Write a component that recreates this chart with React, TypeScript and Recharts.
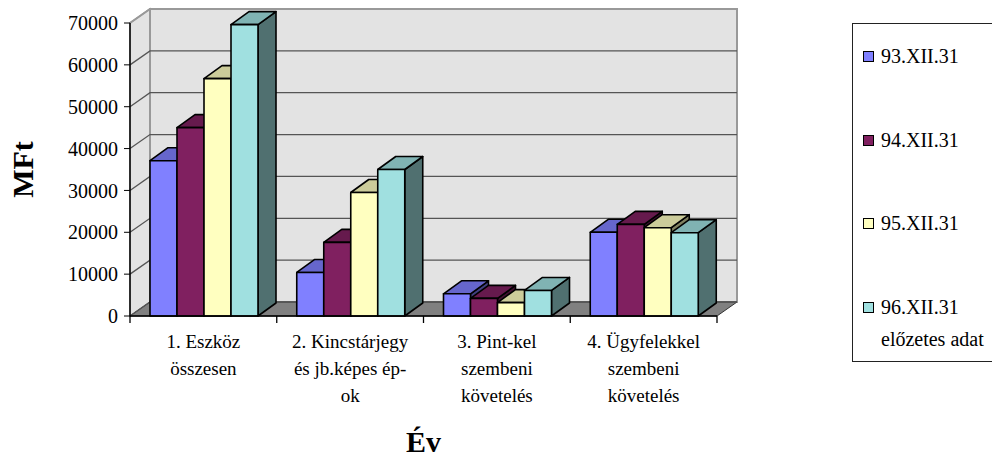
import React from "react";
import { BarChart, Bar, XAxis, YAxis, CartesianGrid, Legend } from "recharts";

// categories (line breaks as in the original axis labels)
const categories = [
  "1. Eszköz\nösszesen",
  "2. Kincstárjegy\nés jb.képes ép-\nok",
  "3. Pint-kel\nszembeni\nkövetelés",
  "4. Ügyfelekkel\nszembeni\nkövetelés",
];

const seriesNames = ["93.XII.31", "94.XII.31", "95.XII.31", "96.XII.31\nelőzetes adat"];
const seriesColors = ["#8080FF", "#802060", "#FFFFC0", "#A0E0E0"];

const v93 = [37100, 10400, 5300, 20000];
const v94 = [45000, 17600, 4200, 21900];
const v95 = [56700, 29500, 3200, 21100];
const v96 = [69600, 35000, 6100, 19900];

const yTicks = [0, 10000, 20000, 30000, 40000, 50000, 60000, 70000];

const data = categories.map((name, i) => ({
  name,
  s0: v93[i],
  s1: v94[i],
  s2: v95[i],
  s3: v96[i],
}));

const FONT = "Liberation Serif, DejaVu Serif, serif";

// depth of the 3D walls and of the bars
const DX = 20;
const DY = -14;
const BDX = 18;
const BDY = -13;

function shade(hex: string, k: number) {
  const n = parseInt(hex.slice(1), 16);
  const r = Math.round(((n >> 16) & 255) * k);
  const g = Math.round(((n >> 8) & 255) * k);
  const b = Math.round((n & 255) * k);
  return `rgb(${r},${g},${b})`;
}

const Bar3D = (props: any) => {
  const { x, y, width: w, height: h, fill } = props;
  if (!h || h <= 0) return <g />;
  return (
    <g stroke="#000" strokeWidth={1.6} strokeLinejoin="round">
      <polygon
        points={`${x + w},${y} ${x + w + BDX},${y + BDY} ${x + w + BDX},${y + h + BDY} ${x + w},${y + h}`}
        fill={shade(fill, 0.5)}
      />
      <polygon
        points={`${x},${y} ${x + BDX},${y + BDY} ${x + w + BDX},${y + BDY} ${x + w},${y}`}
        fill={shade(fill, 0.8)}
      />
      <rect x={x} y={y} width={w} height={h} fill={fill} />
    </g>
  );
};

// grid lines run across the side wall and then along the back wall;
// the first one also paints the walls and the floor underneath
const gridLine = (p: any) => {
  const { x1, y1, x2, index } = p;
  const top = p.y;
  const h = p.height;
  const w = x2 - x1;
  const isTop = Math.abs(y1 - top) < 0.5;
  return (
    <g key={p.key}>
      {index === 0 && (
        <g>
          <polygon
            points={`${x1},${top + h} ${x1},${top} ${x1 + DX},${top + DY} ${x1 + DX},${top + h + DY}`}
            fill="#E3E3E3"
            stroke="#999"
            strokeWidth={1.5}
          />
          <rect x={x1 + DX} y={top + DY} width={w} height={h} fill="#E3E3E3" stroke="#999" strokeWidth={2} />
          <polygon
            points={`${x1},${top + h} ${x2},${top + h} ${x2 + DX},${top + h + DY} ${x1 + DX},${top + h + DY}`}
            fill="#808080"
            stroke="#333"
            strokeWidth={1}
          />
        </g>
      )}
      <polyline
        points={`${x1},${y1} ${x1 + DX},${y1 + DY} ${x2 + DX},${y1 + DY}`}
        fill="none"
        stroke={isTop ? "#999" : "#555"}
        strokeWidth={isTop ? 2 : 1.3}
      />
    </g>
  );
};

const CategoryTick = (props: any) => {
  const { x, y, payload, index } = props;
  const half = typeof payload?.offset === "number" && payload.offset > 0 ? payload.offset : 73.4;
  const lines = String(payload.value).split("\n");
  return (
    <g>
      <line x1={x - half} y1={y} x2={x - half} y2={y + 7} stroke="#000" strokeWidth={1.3} />
      {index === categories.length - 1 && (
        <line x1={x + half} y1={y} x2={x + half} y2={y + 7} stroke="#000" strokeWidth={1.3} />
      )}
      <text textAnchor="middle" fontSize={19} fill="#000" style={{ fontFamily: FONT }}>
        {lines.map((l, i) => (
          <tspan key={i} x={x} y={y + 32 + i * 27}>
            {l}
          </tspan>
        ))}
      </text>
    </g>
  );
};

const LegendBox = ({ payload }: any) => (
  <div
    style={{
      border: "1px solid #222",
      boxSizing: "border-box",
      width: 160,
      height: 339,
      paddingTop: 16,
      paddingLeft: 10,
      background: "#fff",
      fontFamily: FONT,
    }}
  >
    {(payload || []).map((e: any, i: number) => (
      <div
        key={i}
        style={{ display: "flex", alignItems: "flex-start", marginBottom: 51.5, lineHeight: "32px", fontSize: 20 }}
      >
        <span
          style={{
            display: "inline-block",
            width: 9,
            height: 9,
            border: "1.5px solid #000",
            background: e.color,
            marginTop: 11,
            marginRight: 7,
            flex: "none",
          }}
        />
        <span style={{ whiteSpace: "pre-line" }}>{e.value}</span>
      </div>
    ))}
  </div>
);

export default function App() {
  return (
    <div style={{ position: "absolute", left: 0, top: 0, fontFamily: FONT }}>
      <BarChart
        width={992}
        height={460}
        data={data}
        margin={{ top: 23, right: 275, bottom: 0, left: 0 }}
        barCategoryGap={20}
        barGap={0}
        style={{ fontFamily: FONT }}
      >
        <CartesianGrid vertical={false} horizontal={gridLine} />
        <XAxis
          dataKey="name"
          interval={0}
          height={144}
          tickLine={false}
          tickSize={0}
          tickMargin={0}
          axisLine={{ stroke: "#000", strokeWidth: 1.5 }}
          tick={<CategoryTick />}
          label={{
            content: (p: any) => {
              const vb = p.viewBox || {};
              return (
                <text
                  x={vb.x + vb.width / 2}
                  y={vb.y + 136}
                  textAnchor="middle"
                  fontSize={30}
                  fontWeight="bold"
                  style={{ fontFamily: FONT }}
                  fill="#000"
                >
                  Év
                </text>
              );
            },
          }}
        />
        <YAxis
          width={130}
          domain={[0, 70000]}
          ticks={yTicks}
          interval={0}
          tickSize={6}
          tickMargin={6}
          axisLine={{ stroke: "#000", strokeWidth: 1.5 }}
          tickLine={{ stroke: "#000" }}
          tick={{ fill: "#000", fontSize: 20, style: { fontFamily: FONT } }}
          label={{
            content: (p: any) => {
              const vb = p.viewBox || {};
              const cx = vb.x + 33;
              const cy = vb.y + vb.height / 2;
              return (
                <text
                  x={cx}
                  y={cy}
                  transform={`rotate(-90, ${cx}, ${cy})`}
                  textAnchor="middle"
                  fontSize={30}
                  fontWeight="bold"
                  style={{ fontFamily: FONT }}
                  fill="#000"
                >
                  MFt
                </text>
              );
            },
          }}
        />
        <Legend
          layout="vertical"
          align="center"
          verticalAlign="middle"
          content={<LegendBox />}
          wrapperStyle={{ left: 852, top: 23, width: 160, height: 339 }}
        />
        {seriesNames.map((n, i) => (
          <Bar
            key={n}
            dataKey={`s${i}`}
            name={n}
            fill={seriesColors[i]}
            shape={<Bar3D />}
            isAnimationActive={false}
          />
        ))}
      </BarChart>
    </div>
  );
}
